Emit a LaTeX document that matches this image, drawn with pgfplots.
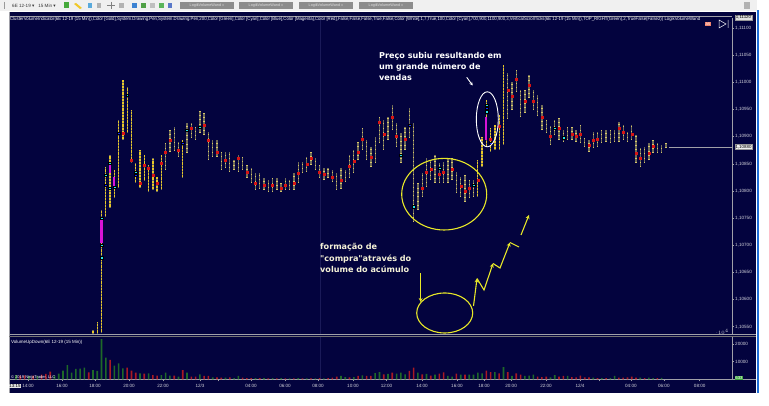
\documentclass[border=0pt]{standalone}
\usepackage{fontspec}
\setmainfont{Liberation Sans}
\newfontfamily\djv{DejaVu Sans}
\usepackage{graphicx}
\usepackage{pgfplots}
\usepackage{pgfplotstable}
\pgfplotsset{compat=1.18}
\usetikzlibrary{arrows.meta}
\definecolor{navy}{RGB}{3,3,62}
\definecolor{barol}{RGB}{112,108,88}
\definecolor{gold}{RGB}{232,200,40}
\definecolor{dimy}{RGB}{214,198,105}
\definecolor{poc}{RGB}{215,20,20}
\definecolor{cyn}{RGB}{40,225,235}
\definecolor{blu}{RGB}{20,40,255}
\definecolor{mag}{RGB}{215,20,215}
\definecolor{vgreen}{RGB}{30,105,40}
\definecolor{vred}{RGB}{170,25,35}
\definecolor{axgray}{RGB}{160,160,168}
\definecolor{lbl}{RGB}{210,210,218}
\definecolor{annoy}{RGB}{232,232,40}
\definecolor{cream}{RGB}{245,242,215}
\definecolor{sessln}{RGB}{26,26,88}
\definecolor{winblue}{RGB}{30,110,215}
\definecolor{icgreen}{RGB}{70,170,60}
\definecolor{icyellow}{RGB}{240,200,40}
\definecolor{icblue}{RGB}{90,170,220}
\definecolor{icblue2}{RGB}{60,130,210}
\definecolor{icgreen2}{RGB}{80,160,70}
\definecolor{icgreen3}{RGB}{90,180,90}
\definecolor{icblue3}{RGB}{90,120,200}
\definecolor{salmon}{RGB}{240,130,110}
\definecolor{volbox}{RGB}{60,165,60}

% price bars: k = 15-min bar index, lo/hi = price in 1/100000 above 1.10000
\pgfplotstableread{
k lo hi
18 538 544
19 538 559
20 540 765
21 752 844
22 770 866
23 787 839
24 807 931
25 894 1004
26 907 992
27 852 949
28 815 852
29 807 876
30 820 866
31 798 848
32 802 861
33 798 826
34 802 866
39 824 894
108 789 857
109 844 899
110 881 968
111 872 916
112 876 921
113 876 940
114 885 1032
}\hotbars
\pgfplotstableread{
k lo hi
35 839 888
36 872 912
37 874 918
38 863 890
40 870 925
41 898 925
42 894 918
43 907 947
44 903 944
45 857 909
46 863 894
47 863 894
48 839 872
49 842 872
50 835 872
51 839 857
52 835 866
53 839 863
54 824 848
55 815 842
56 802 833
57 805 833
58 802 824
59 798 820
60 798 824
61 802 824
62 798 815
63 802 824
64 802 820
65 802 833
66 815 853
67 833 853
68 835 863
69 848 872
70 839 861
71 824 848
72 820 842
73 824 842
74 817 839
75 802 833
76 805 842
77 817 839
78 824 866
79 833 876
80 857 890
81 876 916
82 857 894
83 844 881
84 852 899
85 888 936
86 876 931
87 894 936
88 912 958
89 881 925
90 852 907
91 876 918
92 899 953
93 743 925
94 765 815
95 789 833
96 807 861
97 820 857
98 815 866
99 815 852
100 815 853
101 815 861
102 820 861
103 796 835
104 789 826
105 780 829
106 787 820
107 789 820
115 934 1017
116 949 1001
117 982 1023
118 936 986
119 945 986
120 971 1014
121 949 986
122 938 977
123 912 958
124 907 931
125 885 920
126 903 931
127 894 934
128 890 912
129 894 918
130 894 918
131 890 912
132 888 922
133 881 898
134 872 894
135 879 909
136 881 909
137 888 912
138 890 912
139 888 912
140 890 912
141 890 927
142 894 922
143 890 909
144 894 922
145 852 903
146 844 879
147 852 881
148 857 888
149 870 894
150 870 888
151 870 885
152 879 888
}\dimbars
% point of control (red cells)
\pgfplotstableread{
k v
25 907
27 857
29 815
30 848
31 842
32 829
33 815
34 852
35 872
36 894
38 875
41 916
44 921
45 894
47 872
49 857
52 861
54 835
56 815
58 811
60 811
62 805
63 811
65 815
66 833
68 850
69 860
71 835
72 830
74 825
76 820
78 845
79 855
80 872
81 895
83 862
85 927
86 905
88 935
89 900
91 895
95 805
96 835
97 840
99 830
100 835
102 840
104 808
105 800
106 805
108 820
111 895
113 920
115 985
116 975
117 1005
119 965
120 995
121 965
123 935
125 900
127 915
128 898
130 905
131 900
132 905
134 885
135 893
136 895
141 915
142 908
144 905
145 870
146 860
148 870
149 882
}\pocs
\pgfplotstableread{
k v
20 750
20 700
20 677
21 829
22 851
22 805
23 807
26 977
28 835
40 912
43 918
90 866
93 771
99 842
107 811
110 958
110 946
126 916
128 898
}\cyans
\pgfplotstableread{
k v
21 811
24 907
28 829
39 888
92 921
110 953
111 888
}\blues
\pgfplotstableread{
k lo hi
20 704 752
22 833 848
23 807 826
110 894 936
}\mags
% volume (contracts)
\pgfplotstableread{
k vol
0 2500
3 2000
5 2000
9 2150
10 3300
11 5000
12 8100
13 3800
14 5900
15 6100
16 6600
18 5300
19 4800
20 22700
21 12300
23 7800
24 9100
25 6300
29 3500
31 3500
34 2500
35 3800
36 2150
38 1600
40 3800
43 2900
46 1200
49 1000
51 800
52 2000
56 800
58 800
60 800
62 800
64 650
66 800
68 650
70 650
72 650
76 2000
77 1400
79 1400
81 2300
84 3600
85 4200
87 3100
89 3300
90 3800
91 2900
94 3800
96 3100
98 2700
101 2000
102 1600
104 2700
106 2700
107 2700
108 3800
109 3500
112 4200
114 7000
116 2000
119 2000
120 2150
121 2700
125 1200
126 2500
129 2000
135 1000
137 800
139 800
140 2000
146 1000
148 1000
149 800
151 900
}\volup
\pgfplotstableread{
k vol
1 2150
2 2300
4 2150
6 2700
7 3100
8 4400
17 4000
22 11000
26 6600
27 5000
28 3800
30 3300
32 2500
33 2150
37 2150
39 5300
41 1600
42 1600
44 2000
45 2000
47 1200
48 1000
50 1200
53 1000
54 800
55 800
57 800
59 650
61 650
63 650
65 650
67 650
69 650
71 800
73 800
74 1000
75 1600
78 1200
80 2000
82 2000
83 2000
86 2900
88 3800
92 4800
93 6600
95 2900
97 2150
99 3300
100 4000
103 3300
105 2700
110 5000
111 4200
113 3500
115 4200
117 3500
118 2700
122 1600
123 1400
124 1600
127 1600
128 2000
130 1400
131 1200
132 2150
133 1200
134 1200
136 800
138 800
141 1000
142 1000
143 1200
144 1600
145 1000
147 800
150 800
}\voldown

\pgfplotsset{
  panel/.style={scale only axis, width=723pt, xmin=-1.64, xmax=167.45,
    /pgf/number format/assume math mode=true,
    tick align=outside, major tick length=2pt,
    tick style={axgray, line width=0.5pt},
    ticklabel style={font=\fontsize{4.6}{5}\selectfont, text=lbl, inner sep=1pt}},
  barstyle/.style 2 args={draw=none, mark=none, forget plot,
    error bars/.cd, y dir=plus, y explicit, error mark=none,
    error bar style={draw=#1, line width=1.35pt, #2}},
}

\begin{document}
\begin{tikzpicture}
\useasboundingbox (0,0) rectangle (769pt,406pt);
\fill[white] (0,0) rectangle (769pt,406pt);
\fill[black!6] (0,395pt) rectangle (757pt,406pt);
\fill[navy] (9pt,13pt) rectangle (756pt,394pt);
\draw[axgray, line width=0.8pt] (9pt,13pt) -- (9pt,394pt);
\fill[winblue] (756.5pt,13pt) rectangle (758.5pt,396pt);

% ---------- price panel ----------
\begin{axis}[panel, at={(9pt,72pt)}, anchor=south west, height=316pt,
  ymin=536.6, ymax=1118.6,
  axis x line=none, axis y line*=right,
  y axis line style={axgray, line width=0.8pt},
  ytick={550,600,650,700,750,800,850,900,950,1000,1050,1100},
  yticklabels={{1,10550},{1,10600},{1,10650},{1,10700},{1,10750},{1,10800},{1,10850},{1,10900},{1,10950},{1,11000},{1,11050},{1,11100}},
  yticklabel style={anchor=west}]
\addplot[sessln, line width=0.6pt, forget plot] coordinates {(71.1,536.6) (71.1,1118.6)};
\addplot[axgray, line width=0.6pt, forget plot] coordinates {(152.6,880) (167.45,880)};
\addplot[barstyle={barol}{}] table[x=k, y=lo, y error expr=\thisrow{hi}-\thisrow{lo}] {\dimbars};
\addplot[barstyle={dimy}{dash pattern=on 0.7pt off 3.6pt}] table[x=k, y=lo, y error expr=\thisrow{hi}-\thisrow{lo}] {\dimbars};
\addplot[barstyle={gold}{}] table[x=k, y=lo, y error expr=\thisrow{hi}-\thisrow{lo}] {\hotbars};
\addplot[barstyle={barol}{dash pattern=on 0.6pt off 2.6pt}] table[x=k, y=lo, y error expr=\thisrow{hi}-\thisrow{lo}] {\hotbars};
\addplot[barstyle={mag}{line width=2.2pt}] table[x=k, y=lo, y error expr=\thisrow{hi}-\thisrow{lo}] {\mags};
\addplot[only marks, mark=square*, mark size=1pt, poc, mark options={draw=none, fill=poc}] table[x=k, y=v] {\pocs};
\addplot[only marks, mark=square*, mark size=1.1pt, mark options={draw=none, fill=cyn, xscale=1.3}] table[x=k, y=v] {\cyans};
\addplot[only marks, mark=square*, mark size=1.1pt, mark options={draw=none, fill=blu, xscale=1.3}] table[x=k, y=v] {\blues};
\end{axis}

% ---------- volume panel ----------
\begin{axis}[panel, at={(9pt,26.5pt)}, anchor=south west, height=43.5pt,
  ymin=0, ymax=24438,
  axis x line*=bottom, axis y line*=right,
  axis line style={axgray, line width=0.8pt},
  xtick={2.81,10.76,18.48,26.43,34.38,43.03,47.24,54.96,62.91,70.63,78.81,86.65,94.95,103.13,109.45,115.78,123.95,131.9,136.34,143.8,151.5,159.9},
  xticklabels={14:00,16:00,18:00,20:00,22:00,12/3,{},04:00,06:00,08:00,10:00,12:00,14:00,16:00,18:00,20:00,22:00,12/4,{},04:00,06:00,08:00},
  xticklabel style={yshift=-1.5pt},
  ytick={10000,20000}, yticklabels={10000,20000},
  yticklabel style={anchor=west}]
\addplot[sessln, line width=0.6pt, forget plot] coordinates {(71.1,0) (71.1,24438)};
\addplot[ybar, bar shift=0pt, bar width=1.6pt, fill=vgreen, draw=none] table[x=k, y=vol] {\volup};
\addplot[ybar, bar shift=0pt, bar width=1.6pt, fill=vred, draw=none] table[x=k, y=vol] {\voldown};
\end{axis}

% ---------- frame, labels and annotations (image pixel coordinates) ----------
\begin{scope}[x=1pt, y=-1pt, shift={(0pt,406pt)}]
  % separators
  \draw[axgray, line width=1.2pt] (9,334.5) -- (756,334.5);
  \draw[black!55, line width=0.4pt] (9,336.2) -- (756,336.2);
  \draw[axgray, line width=0.8pt] (732,379.5) -- (756,379.5);
  \draw[axgray, line width=0.5pt] (9,16.3) -- (732,16.3);
  % toolbar
  \node[anchor=west, inner sep=0, font=\fontsize{4.6}{5}\selectfont, text=black!80] at (12,5.5) {6E 12-19 {\djv ▾} \ \ 15 Min {\djv ▾}};
  \draw[black!40] (4,2) -- (4,9);
  \fill[icgreen] (64,2.5) rectangle (69,8.5);
  \fill[icyellow] (76,3) -- (82,8) -- (80,9) -- (74,4) -- cycle;
  \fill[icblue] (88,3) rectangle (92,8);
  \fill[black!30] (97,3) rectangle (101,8);
  \draw[black!50] (107,5.5) -- (115,5.5) (111,2) -- (111,9);
  \fill[black!30] (119,3) rectangle (124,8);
  \fill[icblue2] (132,3) rectangle (137,8);
  \fill[icgreen2] (141,3) rectangle (146,8);
  \fill[black!25] (150,3) rectangle (155,8);
  \fill[icgreen3] (159,3) rectangle (164,8);
  \fill[icblue3] (168,3) rectangle (172,8);
  \foreach \bx in {180,239,299,359}{
    \fill[black!45] (\bx,2.5) rectangle (\bx+54,9.5);
    \node[font=\fontsize{3.8}{4}\selectfont, text=black!12, inner sep=0] at (\bx+27,6) {LogikVolumeWand »};
  }
  \fill[black!30] (744,2) rectangle (750,9);
  % header text
  \node[anchor=west, inner sep=0, text=white] at (10,19.3) {\resizebox{690pt}{3.4pt}{ClusterVolumeIndicator(6E 12-19 (15 Min)),Color [Gold],System.Drawing.Pen,System.Drawing.Pen,200,Color [Green],Color [Cyan],Color [Blue],Color [Magenta],Color [Red],False,False,False,True,False,Color [White],1,7,True,100,Color [Cyan],700,900,1100,900,3,VerticalScrollTicks(6E 12-19 (15 Min)),TOP\_RIGHT(Green),2,TrueFalse(False2)) LogikVolumeWand}};
  \node[fill=salmon, inner sep=0.8pt, font=\fontsize{3.8}{4}\selectfont, text=white] at (708,24) {A5};
  \draw[white, line width=0.5pt] (719,20) -- (726,24) -- (719,28) -- cycle (728,20) -- (728,28);
  % right boxes
  \node[fill=black!12, draw=black!40, inner sep=0.7pt, font=\fontsize{4.4}{5}\selectfont, text=black] at (743.5,17.5) {1,11120};
  \node[fill=black!6, draw=black!40, inner sep=0.7pt, font=\fontsize{4.4}{5}\selectfont, text=black] at (743.5,147) {1,10880};
  \node[fill=volbox, inner sep=0.7pt, font=\fontsize{4.4}{5}\selectfont, text=white] at (739,378) {633};
  % panel texts
  \node[anchor=west, inner sep=0, font=\fontsize{4.5}{5}\selectfont, text=white] at (11,342) {VolumeUpDown(6E 12-19 (15 Min))};
  \node[anchor=west, inner sep=0, font=\fontsize{4}{5}\selectfont, text=white] at (11,377.5) {© 2019 NinjaTrader, LLC};
  \node[fill=black!10, inner sep=0.6pt, font=\fontsize{4.4}{5}\selectfont, text=black] at (15,386) {13:15};
  % annotations
  \node[anchor=west, align=left, inner sep=0, text=white, font=\djv\bfseries\fontsize{8.1}{11.2}\selectfont] at (379,66.3) {Preço subiu resultando em\\um grande número de\\vendas};
  \node[anchor=west, align=left, inner sep=0, text=cream, font=\djv\bfseries\fontsize{8.1}{11.3}\selectfont] at (320,258) {formação de\\"compra"através do\\volume do acúmulo};
  \draw[white, line width=0.9pt, -{Stealth[length=3.5pt,width=3.5pt]}] (466.7,77.3) -- (472.7,85.5);
  \draw[white, line width=0.9pt] (487.3,119.3) ellipse [x radius=11, y radius=27.5];
  \draw[annoy, line width=1.1pt] (444.2,194.2) ellipse [x radius=42.5, y radius=35.8];
  \draw[annoy, line width=1.1pt] (444.7,313) ellipse [x radius=28, y radius=20];
  \draw[annoy, line width=1.1pt, -{Stealth[length=4pt,width=4pt]}] (420.7,273) -- (420.7,302);
  \draw[annoy, line width=1.1pt, -{Stealth[length=4pt,width=4pt]}] (473.5,306) -- (477,278.5);
  \draw[annoy, line width=1.1pt, -{Stealth[length=4pt,width=4pt]}] (477,278.5) -- (484,290) -- (493,263.5);
  \draw[annoy, line width=1.1pt, -{Stealth[length=4pt,width=4pt]}] (493,263.5) -- (500,268) -- (510,242.5);
  \draw[annoy, line width=1.1pt] (510,242.5) -- (519,247);
  \draw[annoy, line width=1.1pt, -{Stealth[length=4pt,width=4pt]}] (521,235) -- (529,215);
\end{scope}
\end{tikzpicture}
\end{document}
